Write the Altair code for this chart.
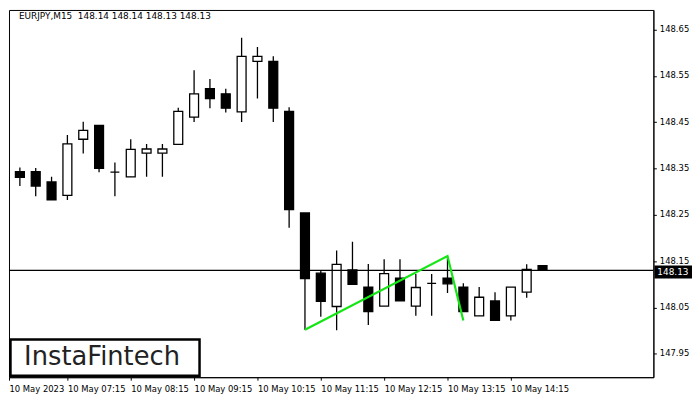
import json
import altair as alt
import pandas as pd

# ---- data (EURJPY, M15) ----
opens = [148.321, 148.343, 148.343, 148.321, 148.292, 148.413, 148.443, 148.342, 148.332, 148.383,
         148.383, 148.402, 148.461, 148.522, 148.511, 148.472, 148.581, 148.581, 148.473, 148.254,
         148.124, 148.052, 148.131, 148.094, 148.053, 148.113, 148.053, 148.102, 148.113, 148.094,
         148.032, 148.064, 148.032, 148.083, 148.140]
highs = [148.363, 148.352, 148.351, 148.332, 148.422, 148.451, 148.443, 148.363, 148.413, 148.403,
         148.403, 148.481, 148.562, 148.543, 148.522, 148.632, 148.612, 148.592, 148.482, 148.254,
         148.131, 148.173, 148.192, 148.144, 148.154, 148.154, 148.122, 148.122, 148.161, 148.102,
         148.094, 148.083, 148.094, 148.143, 148.140]
lows = [148.301, 148.312, 148.290, 148.282, 148.282, 148.382, 148.342, 148.290, 148.332, 148.332,
        148.332, 148.402, 148.450, 148.480, 148.471, 148.450, 148.501, 148.450, 148.222, 148.002,
        148.030, 148.001, 148.100, 148.012, 148.053, 148.064, 148.032, 148.032, 148.081, 148.041,
        148.032, 148.022, 148.022, 148.071, 148.130]
closes = [148.332, 148.331, 148.312, 148.282, 148.403, 148.432, 148.350, 148.342, 148.391, 148.392,
          148.392, 148.473, 148.511, 148.501, 148.480, 148.592, 148.592, 148.480, 148.261, 148.112,
          148.063, 148.143, 148.100, 148.041, 148.123, 148.064, 148.093, 148.102, 148.101, 148.041,
          148.072, 148.022, 148.094, 148.132, 148.130]

# pattern (green) line: bar index and price
pattern_idx = [19, 28, 29]
pattern_price = [148.002, 148.161, 148.022]

current_price = 148.13
title_text = "EURJPY,M15\u00a0 148.14 148.14 148.13 148.13"

x_tick_values = [0, 4, 8, 12, 16, 20, 24, 28, 32]
x_tick_labels = ["10 May 2023", "10 May 07:15", "10 May 08:15", "10 May 09:15", "10 May 10:15",
                 "10 May 11:15", "10 May 12:15", "10 May 13:15", "10 May 14:15"]
y_tick_values = [147.95, 148.05, 148.15, 148.25, 148.35, 148.45, 148.55, 148.65]

FONT = "DejaVu Sans"
FS = 8.5

X_DOMAIN = [0.3125, 41.0]
Y_DOMAIN = [147.8994, 148.6921]

df = pd.DataFrame({
    "i": list(range(len(opens))),
    "open": opens, "high": highs, "low": lows, "close": closes,
})
df["dir"] = ["up" if c > o else "down" for o, c in zip(opens, closes)]
pat = pd.DataFrame({"i": pattern_idx, "p": pattern_price})

xscale = alt.Scale(domain=X_DOMAIN, nice=False, zero=False, padding=0)
yscale = alt.Scale(domain=Y_DOMAIN, nice=False, zero=False, padding=0)

axis_values = [max(v, X_DOMAIN[0]) for v in x_tick_values]
label_expr = "%s[indexof(%s, floor(datum.value))]" % (json.dumps(x_tick_labels), json.dumps(x_tick_values))

xaxis = alt.Axis(values=axis_values, labelExpr=label_expr, labelAlign="left", labelBaseline="top",
                 tickSize=3, tickColor="black", domainColor="black", grid=False, title=None,
                 labelFont=FONT, labelFontSize=FS, labelColor="black", labelPadding=4,
                 labelOverlap=False, labelFlush=False, labelBound=False)
yaxis = alt.Axis(values=y_tick_values, format=".2f", orient="right", tickSize=3, tickColor="black",
                 domainColor="black", grid=False, title=None, labelFont=FONT, labelFontSize=FS,
                 labelColor="black", labelPadding=3, labelFlush=False, labelBaseline="middle", labelOffset=-1)

base = alt.Chart(df)

wicks = base.mark_rule(color="black", strokeWidth=1.3, clip=True).encode(
    x=alt.X("i:Q", scale=xscale, axis=xaxis),
    y=alt.Y("low:Q", scale=yscale, axis=yaxis),
    y2="high:Q",
)

bodies = base.mark_bar(size=9, stroke="black", strokeWidth=1.3, clip=True).encode(
    x=alt.X("i:Q", scale=xscale),
    y=alt.Y("open:Q", scale=yscale),
    y2="close:Q",
    color=alt.Color("dir:N", scale=alt.Scale(domain=["up", "down"], range=["white", "black"]), legend=None),
)

price_line = alt.Chart(pd.DataFrame({"p": [current_price]})).mark_rule(color="black", strokeWidth=1.2).encode(
    y=alt.Y("p:Q", scale=yscale),
)

pattern_line = alt.Chart(pat).mark_line(color="#14e614", strokeWidth=2.2).encode(
    x=alt.X("i:Q", scale=xscale),
    y=alt.Y("p:Q", scale=yscale),
    order="i:Q",
)

price_box = alt.Chart(pd.DataFrame({"p": [current_price]})).mark_rect(color="black").encode(
    x=alt.value(652), x2=alt.value(690),
    y=alt.Y("y1:Q", scale=yscale), y2="y2:Q",
).transform_calculate(y1="datum.p + 0.0105", y2="datum.p - 0.0175")

price_text = alt.Chart(pd.DataFrame({"p": [current_price]})).mark_text(
    color="white", font=FONT, fontSize=FS + 0.5, align="left", baseline="middle", dy=1.5
).encode(
    x=alt.value(655),
    y=alt.Y("p:Q", scale=yscale),
    text=alt.Text("p:Q", format=".2f"),
)

title = alt.Chart(pd.DataFrame({"t": [title_text]})).mark_text(
    font=FONT, fontSize=FS + 0.5, align="left", baseline="top", color="black"
).encode(x=alt.value(10), y=alt.value(2.5), text="t:N")

logo_box = alt.Chart(pd.DataFrame({"a": [0]})).mark_rect(fill="white", stroke="black", strokeWidth=2.5).encode(
    x=alt.value(1.5), x2=alt.value(192.5), y=alt.value(333), y2=alt.value(369.5)
)
logo_text = alt.Chart(pd.DataFrame({"t": ["InstaFintech"]})).mark_text(
    font="DejaVu Sans", fontSize=26, align="center", baseline="middle", color="#222222"
).encode(x=alt.value(94), y=alt.value(351), text="t:N")

chart = alt.layer(
    wicks, bodies, price_line, pattern_line, price_box, price_text, title, logo_box, logo_text
).properties(
    width=651, height=371,
    padding=0,
    background="white",
).configure_view(stroke="black", strokeWidth=1)

chart.save("out.html", embed_options={"renderer": "svg", "actions": False})
